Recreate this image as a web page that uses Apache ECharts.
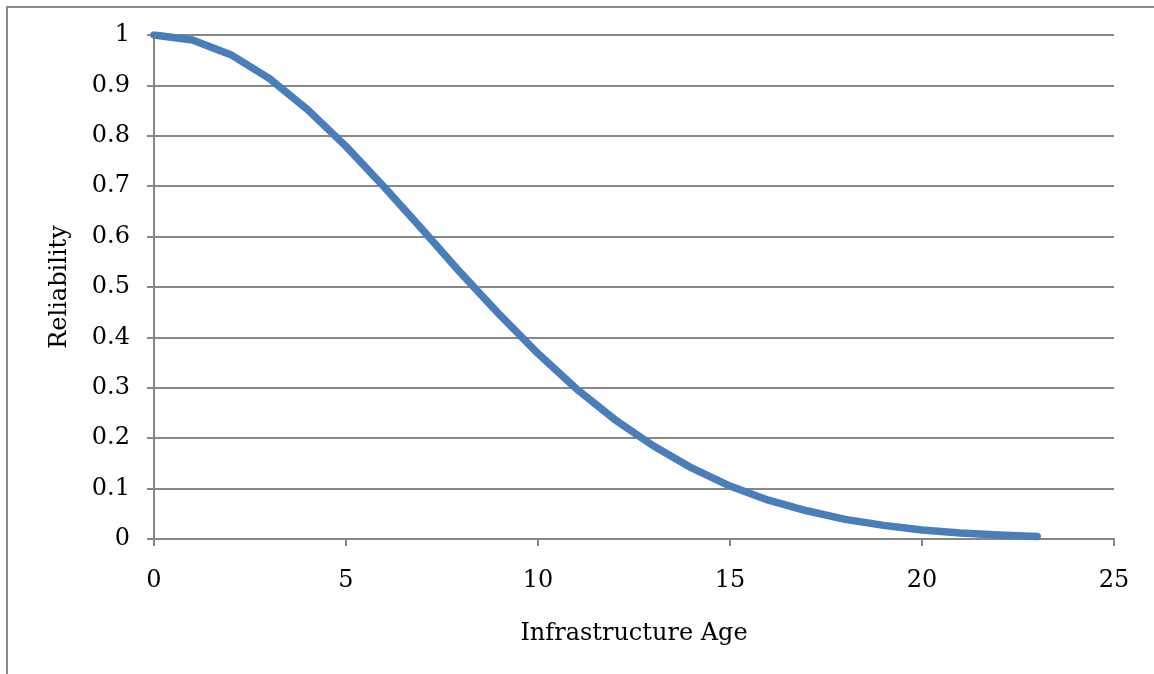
<!DOCTYPE html>
<html>
<head>
<meta charset="utf-8">
<script src="https://cdn.jsdelivr.net/npm/echarts@6/dist/echarts.min.js"></script>
<style>
html,body{margin:0;padding:0;background:#fff;}
#chart{width:1154px;height:674px;}
</style>
</head>
<body>
<div id="chart"></div>
<script>
const ages = [0,1,2,3,4,5,6,7,8,9,10,11,12,13,14,15,16,17,18,19,20,21,22,23];
const reliability = [1, 0.99, 0.961, 0.914, 0.852, 0.779, 0.698, 0.613, 0.527, 0.445, 0.368, 0.298, 0.237, 0.185, 0.141, 0.105, 0.077, 0.056, 0.039, 0.027, 0.018, 0.012, 0.008, 0.005];
const xTitle = 'Infrastructure Age';
const yTitle = 'Reliability';

const font = '"DejaVu Serif", "Liberation Serif", serif';
const gray = '#878787';
const chart = echarts.init(document.getElementById('chart'), null, {renderer: 'canvas'});
chart.setOption({
  animation: false,
  backgroundColor: '#fff',
  graphic: [{
    type: 'rect',
    shape: {x: 7, y: 7, width: 1300, height: 800},
    style: {fill: 'none', stroke: '#8c8c8c', lineWidth: 2},
    silent: true
  }],
  grid: {left: 154, right: 40, top: 35, bottom: 135},
  xAxis: {
    type: 'value', min: 0, max: 25, interval: 5,
    name: xTitle, nameLocation: 'middle', nameGap: 83,
    nameTextStyle: {fontFamily: font, fontSize: 24, color: '#000'},
    axisLine: {show: true, lineStyle: {color: gray, width: 2}},
    axisTick: {show: true, inside: false, length: 7, lineStyle: {color: gray, width: 2}},
    axisLabel: {fontFamily: font, fontSize: 24, color: '#000', margin: 30},
    splitLine: {show: false}
  },
  yAxis: {
    type: 'value', min: 0, max: 1, interval: 0.1,
    name: yTitle, nameLocation: 'middle', nameGap: 82, nameRotate: 90,
    nameTextStyle: {fontFamily: font, fontSize: 24, color: '#000'},
    axisLine: {show: true, lineStyle: {color: gray, width: 2}},
    axisTick: {show: true, inside: false, length: 7, lineStyle: {color: gray, width: 2}},
    axisLabel: {fontFamily: font, fontSize: 24, color: '#000', margin: 24},
    splitLine: {show: true, lineStyle: {color: gray, width: 2}}
  },
  series: [{
    type: 'line',
    data: ages.map((a, i) => [a, reliability[i]]),
    showSymbol: false,
    smooth: false,
    lineStyle: {color: '#4A7EBB', width: 7.5, cap: 'round', join: 'round'},
    itemStyle: {color: '#4A7EBB'}
  }]
});
</script>
</body>
</html>
